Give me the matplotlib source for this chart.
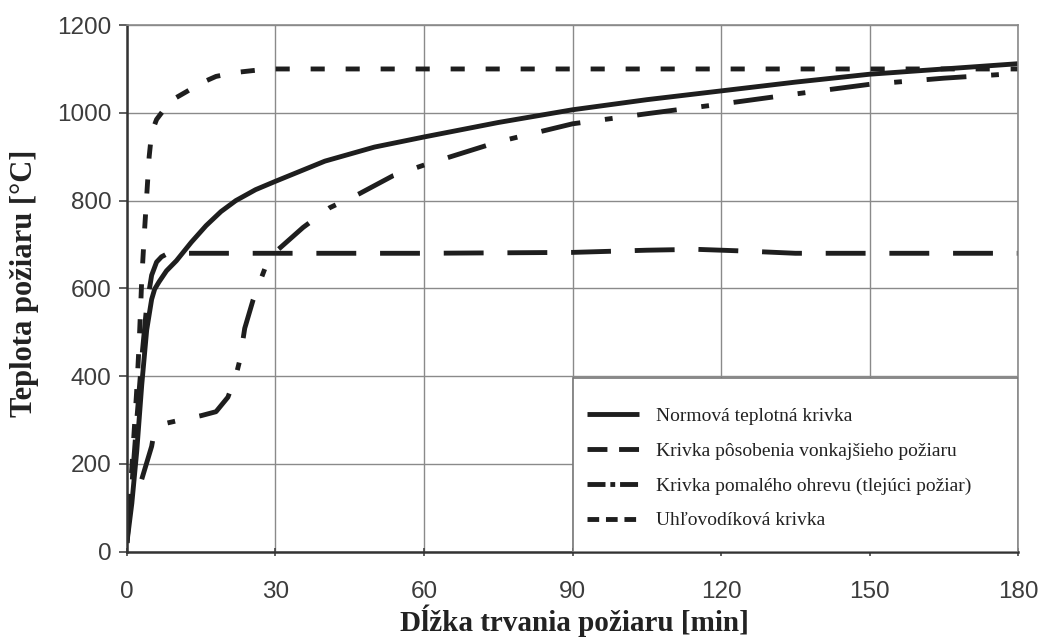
import numpy as np
import matplotlib.pyplot as plt
from matplotlib.patches import Rectangle
from matplotlib.lines import Line2D

# values
t_norm = [0, 1, 2, 3, 4, 5, 5.6, 6.5, 8, 10, 13, 16, 19, 22, 26, 30, 40, 50, 60, 75, 90, 105, 120, 135, 150, 165, 180]
T_norm = [20, 110, 230, 380, 505, 575, 598, 615, 640, 663, 705, 743, 775, 800, 825, 844, 890, 922, 945, 978, 1007, 1030, 1050, 1070, 1088, 1100, 1112]

t_ext = [0, 1, 2, 3, 4, 5, 6, 7, 8, 10, 15, 20, 30, 60, 90, 105, 115, 125, 135, 150, 180]
T_ext = [20, 150, 300, 440, 560, 630, 660, 672, 678, 680, 680, 680, 680, 680, 682, 687, 689, 685, 680, 680, 680]

t_slow = [3, 5, 5.3, 7.3, 10, 12, 15, 18, 20.4, 22, 22.8, 23.8, 25.5, 28.2, 30, 35.6, 41, 47, 53.8, 60, 75, 90, 105, 120, 135, 150, 165, 180]
T_slow = [165, 240, 259, 291, 298, 303, 310, 319, 352, 400, 436, 509, 574, 655, 683, 739, 784, 816, 857, 881, 934, 975, 998, 1020, 1043, 1065, 1079, 1090]

t_hc = [0, 0.5, 1, 1.5, 2, 2.5, 3, 3.5, 4, 4.5, 5, 6, 8, 10, 12, 15, 18, 22, 26, 30, 60, 90, 120, 150, 180]
T_hc = [20, 110, 190, 280, 370, 480, 620, 720, 810, 900, 955, 985, 1015, 1035, 1048, 1068, 1083, 1092, 1097, 1100, 1100, 1100, 1100, 1100, 1100]

labels = ['Normová teplotná krivka',
          'Krivka pôsobenia vonkajšieho požiaru',
          'Krivka pomalého ohrevu (tlejúci požiar)',
          'Uhľovodíková krivka']

xticks = [0, 30, 60, 90, 120, 150, 180]
yticks = [0, 200, 400, 600, 800, 1000, 1200]

fig = plt.figure(figsize=(10.4, 6.43), dpi=100)
ax = fig.add_axes([0.122, 0.142, 0.857, 0.819])

col = '#1e1e1e'
lw = 3.5
ax.plot(t_norm, T_norm, color=col, lw=lw, solid_capstyle='butt')
ax.plot(t_ext, T_ext, color=col, lw=lw, dashes=(8.2, 4.9), dash_capstyle='butt')
ax.plot(t_slow, T_slow, color=col, lw=lw, dashes=(8.2, 5.1, 1.6, 5.1), dash_capstyle='butt')
ax.plot(t_hc, T_hc, color=col, lw=lw, dashes=(2.9, 4.3), dash_capstyle='butt')

ax.set_xlim(0, 180)
ax.set_ylim(0, 1200)
ax.set_xticks(xticks)
ax.set_yticks(yticks)
ax.grid(True, color='#8a8a8a', lw=1.0)
ax.set_axisbelow(True)

for s in ['top', 'right']:
    ax.spines[s].set_color('#8a8a8a')
    ax.spines[s].set_linewidth(1.2)
for s in ['left', 'bottom']:
    ax.spines[s].set_color('#333333')
    ax.spines[s].set_linewidth(1.8)

ax.tick_params(axis='both', length=6, width=1.2, color='#444444',
               labelsize=17.5, labelcolor='#3c3c3c')
ax.tick_params(axis='y', pad=5)
ax.tick_params(axis='x', direction='inout', pad=18)
for lab in ax.get_xticklabels() + ax.get_yticklabels():
    lab.set_family('Liberation Sans')

fig.text(0.552, 0.018, 'Dĺžka trvania požiaru [min]', family='Liberation Serif',
         fontsize=21, fontweight='bold', color='#222222', ha='center', va='baseline')
fig.text(0.024, 0.56, 'Teplota požiaru [°C]', family='Liberation Serif',
         fontsize=22, fontweight='bold', color='#222222', ha='center', va='center',
         rotation=90)

# white legend box over the plot
box = Rectangle((0.5006, 0.0), 0.4994, 0.330, transform=ax.transAxes, facecolor='white',
                edgecolor='#777777', lw=1.2, zorder=3)
ax.add_patch(box)
handles = [
    Line2D([], [], color=col, lw=lw, solid_capstyle='butt'),
    Line2D([], [], color=col, lw=lw, dashes=(4.1, 2.4), dash_capstyle='butt'),
    Line2D([], [], color=col, lw=lw, dashes=(3.7, 1.0, 1.0, 1.0), dash_capstyle='butt'),
    Line2D([], [], color=col, lw=lw, dashes=(2.4, 1.4), dash_capstyle='butt'),
]
leg = ax.legend(handles=handles, labels=labels, loc='center left',
                bbox_to_anchor=(0.516, 0.158), frameon=False,
                borderpad=0, borderaxespad=0,
                prop={'family': 'Liberation Serif', 'size': 14},
                handlelength=2.7, handletextpad=0.87, labelspacing=0.88)
leg.set_zorder(5)
for t in leg.get_texts():
    t.set_color('#222222')

fig.savefig('out.png', dpi=100)
